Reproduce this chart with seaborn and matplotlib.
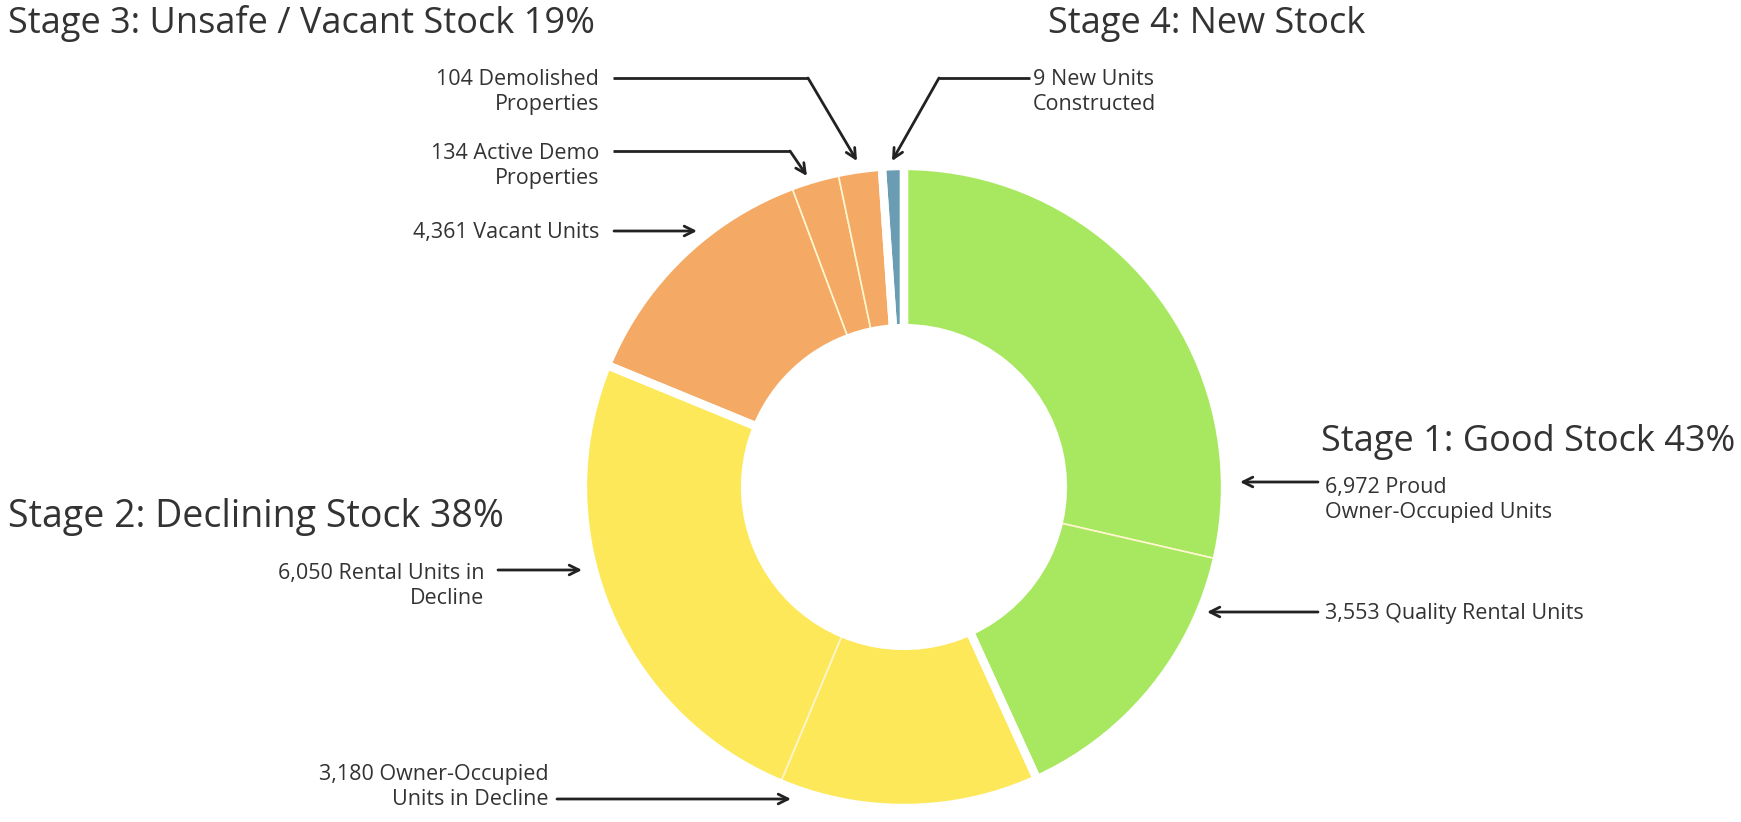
import numpy as np
import pandas as pd
import matplotlib
matplotlib.use("Agg")
import matplotlib.pyplot as plt
import seaborn as sns

sns.set_style("white")
plt.rcParams['font.family'] = ['Open Sans', 'DejaVu Sans']

# Data (share = % of the ring as drawn)
stages = ["Stage 1", "Stage 1", "Stage 2", "Stage 2", "Stage 3", "Stage 3", "Stage 3", "Stage 4"]
counts = [6972, 3553, 3180, 6050, 4361, 134, 104, 9]
share = [28.6, 14.6, 13.1, 24.9, 13.1, 2.4, 2.2, 1.1]
slice_labels = ["Proud\nOwner-Occupied Units", "Quality Rental Units",
                "Owner-Occupied\nUnits in Decline", "Rental Units in\nDecline",
                "Vacant Units", "Active Demo\nProperties", "Demolished\nProperties",
                "New Units\nConstructed"]
stage_titles = ["Stage 1: Good Stock 43%", "Stage 2: Declining Stock 38%",
                "Stage 3: Unsafe / Vacant Stock 19%", "Stage 4: New Stock"]
stage_colors = {"Stage 1": "#a8e860", "Stage 2": "#fde85a",
                "Stage 3": "#f4aa64", "Stage 4": "#6a9db3"}

df = pd.DataFrame({"stage": stages, "count": counts, "share": share})
groups = df.groupby("stage", sort=False)["share"].sum()

W, H = 1741, 822
fig = plt.figure(figsize=(W / 100, H / 100), dpi=100)

# donut axes: centre (904, 487) px, radius ~320 px
cx, cy, R = 904, 487, 321
ax = fig.add_axes([(cx - R) / W, (H - cy - R) / H, 2 * R / W, 2 * R / H])
ring = 0.505
ax.pie(df["share"], colors=[stage_colors[s] for s in df["stage"]],
       startangle=90, counterclock=False, radius=1,
       wedgeprops=dict(width=ring, edgecolor="#fff6cf", linewidth=1.2))
ax.pie(groups.values, startangle=90, counterclock=False, radius=1,
       wedgeprops=dict(width=ring, fill=False, edgecolor="white", linewidth=6))
ax.set_xlim(-1, 1)
ax.set_ylim(-1, 1)
ax.axis("off")

# overlay axes in pixel coordinates for annotations
ov = fig.add_axes([0, 0, 1, 1])
ov.set_xlim(0, W)
ov.set_ylim(H, 0)
ov.axis("off")

tc = "#333333"
head = dict(fontsize=26, color=tc, va="center")
ov.text(8, 24, stage_titles[2], ha="left", **head)
ov.text(1048, 24, stage_titles[3], ha="left", **head)
ov.text(1321, 442, stage_titles[0], ha="left", **head)
ov.text(8, 517, stage_titles[1], ha="left", fontsize=27, color=tc, va="center")

small = dict(fontsize=15.5, color=tc, va="center", linespacing=1.3)
lab = [f"{c:,} {l}" for c, l in zip(counts, slice_labels)]
ov.text(1325, 500, lab[0], ha="left", **small)
ov.text(1325, 613, lab[1], ha="left", **small)
ov.text(549, 787, lab[2], ha="right", **small)
ov.text(484, 586, lab[3], ha="right", **small)
ov.text(599, 232, lab[4], ha="right", **small)
ov.text(599, 166, lab[5], ha="right", **small)
ov.text(599, 92, lab[6], ha="right", **small)
ov.text(1033, 92, lab[7], ha="left", **small)

aprops = dict(arrowstyle="->,head_length=0.7,head_width=0.35", color="#222222", lw=2,
              shrinkA=0, shrinkB=0)

def arrow(points):
    pts = np.array(points)
    for a, b in zip(pts[:-2], pts[1:-1]):
        ov.plot([a[0], b[0]], [a[1], b[1]], color="#222222", lw=2, solid_capstyle="butt")
    ov.annotate("", xy=pts[-1], xytext=pts[-2], arrowprops=aprops)

arrow([(1318, 482), (1240, 482)])
arrow([(1318, 612), (1207, 612)])
arrow([(498, 570), (582, 570)])
arrow([(557, 799), (791, 799)])
arrow([(614, 231), (697, 231)])
arrow([(613, 151), (790, 151), (807, 176)])
arrow([(613, 78), (808, 78), (857, 161)])
arrow([(1030, 78), (939, 78), (892, 161)])

fig.savefig("out.png", dpi=100, facecolor="white")
